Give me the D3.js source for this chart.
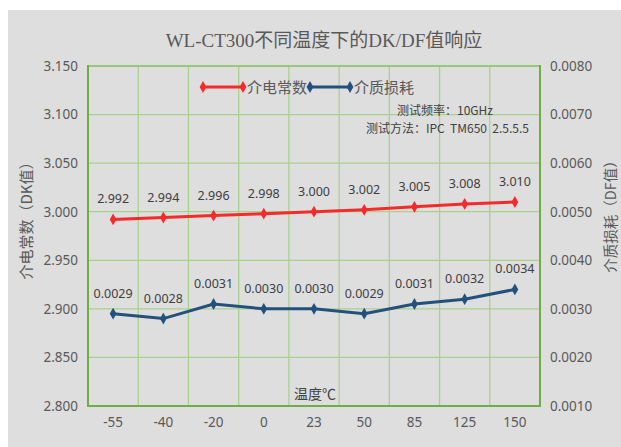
<!DOCTYPE html>
<html><head><meta charset="utf-8">
<script src="https://cdn.jsdelivr.net/npm/d3@7/dist/d3.min.js"></script>
<style>
html,body{margin:0;padding:0;background:#fff;}
svg{display:block;}
</style></head>
<body>
<svg id="c" width="621" height="447"></svg>
<script>
const categories = ["-55","-40","-20","0","23","50","85","125","150"];
const dkValues = [2.992,2.994,2.996,2.998,3.000,3.002,3.005,3.008,3.010];
const dfValues = [0.0029,0.0028,0.0031,0.0030,0.0030,0.0029,0.0031,0.0032,0.0034];
const dkLabels = ["2.992","2.994","2.996","2.998","3.000","3.002","3.005","3.008","3.010"];
const dfLabels = ["0.0029","0.0028","0.0031","0.0030","0.0030","0.0029","0.0031","0.0032","0.0034"];
const leftTicks = [2.80,2.85,2.90,2.95,3.00,3.05,3.10,3.15];
const rightTicks = [0.001,0.002,0.003,0.004,0.005,0.006,0.007,0.008];
const seriesNames = ["介电常数","介质损耗"];
const title = "WL-CT300不同温度下的DK/DF值响应";
const leftTitle = "介电常数（DK值）";
const rightTitle = "介质损耗（DF值）";
const xTitle = "温度℃";
const notes = ["测试频率：10GHz","测试方法：IPC  TM650  2.5.5.5"];

const W=621,H=447;
const m={l:88,r:540,t:66,b:406};
const svg=d3.select("#c");
const txt="#595959";
const numFont="'Noto Sans', 'Open Sans', sans-serif";
const cjk="'Noto Sans CJK SC', sans-serif";

svg.append("rect").attr("x",8).attr("y",10).attr("width",W-8).attr("height",H-10).attr("fill","#dedede");

const x=d3.scaleBand().domain(categories).range([m.l,m.r]).padding(0);
const yL=d3.scaleLinear().domain([2.80,3.15]).range([m.b,m.t]);
const yR=d3.scaleLinear().domain([0.001,0.008]).range([m.b,m.t]);

// horizontal grid
svg.append("g").selectAll("line").data(leftTicks).join("line")
  .attr("x1",m.l).attr("x2",m.r).attr("y1",d=>yL(d)).attr("y2",d=>yL(d))
  .attr("stroke","#a9d18e").attr("stroke-width",1.3);
// vertical grid
svg.append("g").selectAll("line").data(categories.slice(1)).join("line")
  .attr("x1",d=>x(d)).attr("x2",d=>x(d)).attr("y1",m.t).attr("y2",m.b)
  .attr("stroke","#a9d18e").attr("stroke-width",1.3);
// frame
svg.append("line").attr("x1",m.l).attr("x2",m.r).attr("y1",m.t).attr("y2",m.t).attr("stroke","#8cc46a").attr("stroke-width",1.5);
svg.append("line").attr("x1",m.l).attr("x2",m.l).attr("y1",m.t-1).attr("y2",m.b+1).attr("stroke","#70ad47").attr("stroke-width",2);
svg.append("line").attr("x1",m.r).attr("x2",m.r).attr("y1",m.t-1).attr("y2",m.b+1).attr("stroke","#70ad47").attr("stroke-width",2);
svg.append("line").attr("x1",m.l).attr("x2",m.r).attr("y1",m.b).attr("y2",m.b).attr("stroke","#70ad47").attr("stroke-width",2);

// axes
const axL=svg.append("g").attr("transform",`translate(${m.l},0)`)
  .call(d3.axisLeft(yL).tickValues(leftTicks).tickFormat(d3.format(".3f")).tickSize(0).tickPadding(10));
const axR=svg.append("g").attr("transform",`translate(${m.r},0)`)
  .call(d3.axisRight(yR).tickValues(rightTicks).tickFormat(d3.format(".4f")).tickSize(0).tickPadding(10));
const axB=svg.append("g").attr("transform",`translate(0,${m.b})`)
  .call(d3.axisBottom(x).tickSize(0).tickPadding(11));
[axL,axR,axB].forEach(a=>{a.select(".domain").remove();
  a.selectAll("text").attr("fill",txt).style("font-family",numFont).style("font-size","13.5px");});

// lines
const lineL=d3.line().x((d,i)=>x(categories[i])+x.bandwidth()/2).y(d=>yL(d));
const lineR=d3.line().x((d,i)=>x(categories[i])+x.bandwidth()/2).y(d=>yR(d));
const red="#f52a2a", blue="#24507c";
svg.append("path").datum(dkValues).attr("d",lineL).attr("fill","none").attr("stroke",red).attr("stroke-width",3);
svg.append("path").datum(dfValues).attr("d",lineR).attr("fill","none").attr("stroke",blue).attr("stroke-width",3);
const diamond=d3.symbol().type(d3.symbolDiamond).size(40);
svg.append("g").selectAll("path").data(dkValues).join("path").attr("d",diamond)
  .attr("transform",(d,i)=>`translate(${x(categories[i])+x.bandwidth()/2},${yL(d)})`).attr("fill",red);
svg.append("g").selectAll("path").data(dfValues).join("path").attr("d",diamond)
  .attr("transform",(d,i)=>`translate(${x(categories[i])+x.bandwidth()/2},${yR(d)})`).attr("fill",blue);

// data labels
svg.append("g").selectAll("text").data(dkValues).join("text")
  .attr("x",(d,i)=>x(categories[i])+x.bandwidth()/2).attr("y",d=>yL(d)-16)
  .attr("text-anchor","middle").attr("fill","#404040").style("font-family",numFont).style("font-size","12.5px")
  .text((d,i)=>dkLabels[i]);
svg.append("g").selectAll("text").data(dfValues).join("text")
  .attr("x",(d,i)=>x(categories[i])+x.bandwidth()/2).attr("y",d=>yR(d)-16)
  .attr("text-anchor","middle").attr("fill","#404040").style("font-family",numFont).style("font-size","12.5px")
  .text((d,i)=>dfLabels[i]);

// title
svg.append("text").attr("x",324).attr("y",47).attr("text-anchor","middle").attr("fill",txt)
  .style("font-family","'Liberation Serif', 'Noto Sans CJK SC', serif").style("font-size","19px").text(title);

// axis titles
svg.append("text").attr("transform","translate(32,217) rotate(-90)").attr("text-anchor","middle").attr("fill",txt)
  .style("font-family",cjk).style("font-size","15px").text(leftTitle);
svg.append("text").attr("transform","translate(616,213) rotate(-90)").attr("text-anchor","middle").attr("fill",txt)
  .style("font-family",cjk).style("font-size","14.5px").text(rightTitle);
svg.append("text").attr("x",315).attr("y",399).attr("text-anchor","middle").attr("fill","#404040")
  .style("font-family",cjk).style("font-size","14px").text(xTitle);

// legend
const lg=[{n:seriesNames[0],c:red,x0:203},{n:seriesNames[1],c:blue,x0:310}];
lg.forEach(o=>{
  svg.append("line").attr("x1",o.x0).attr("x2",o.x0+40).attr("y1",87).attr("y2",87).attr("stroke",o.c).attr("stroke-width",3);
  svg.append("path").attr("d",diamond).attr("transform",`translate(${o.x0},87)`).attr("fill",o.c);
  svg.append("path").attr("d",diamond).attr("transform",`translate(${o.x0+40},87)`).attr("fill",o.c);
  svg.append("text").attr("x",o.x0+44).attr("y",92.5).attr("fill",txt).style("font-family",cjk).style("font-size","15px").text(o.n);
});

// notes
svg.append("text").attr("x",493).attr("y",115).attr("text-anchor","end").attr("fill","#404040")
  .style("font-family",cjk).style("font-size","12px").text(notes[0]);
svg.append("text").attr("x",529).attr("y",133).attr("text-anchor","end").attr("fill","#404040")
  .style("font-family",cjk).style("font-size","12px").style("white-space","pre").attr("xml:space","preserve").text(notes[1]);
</script>
</body></html>
